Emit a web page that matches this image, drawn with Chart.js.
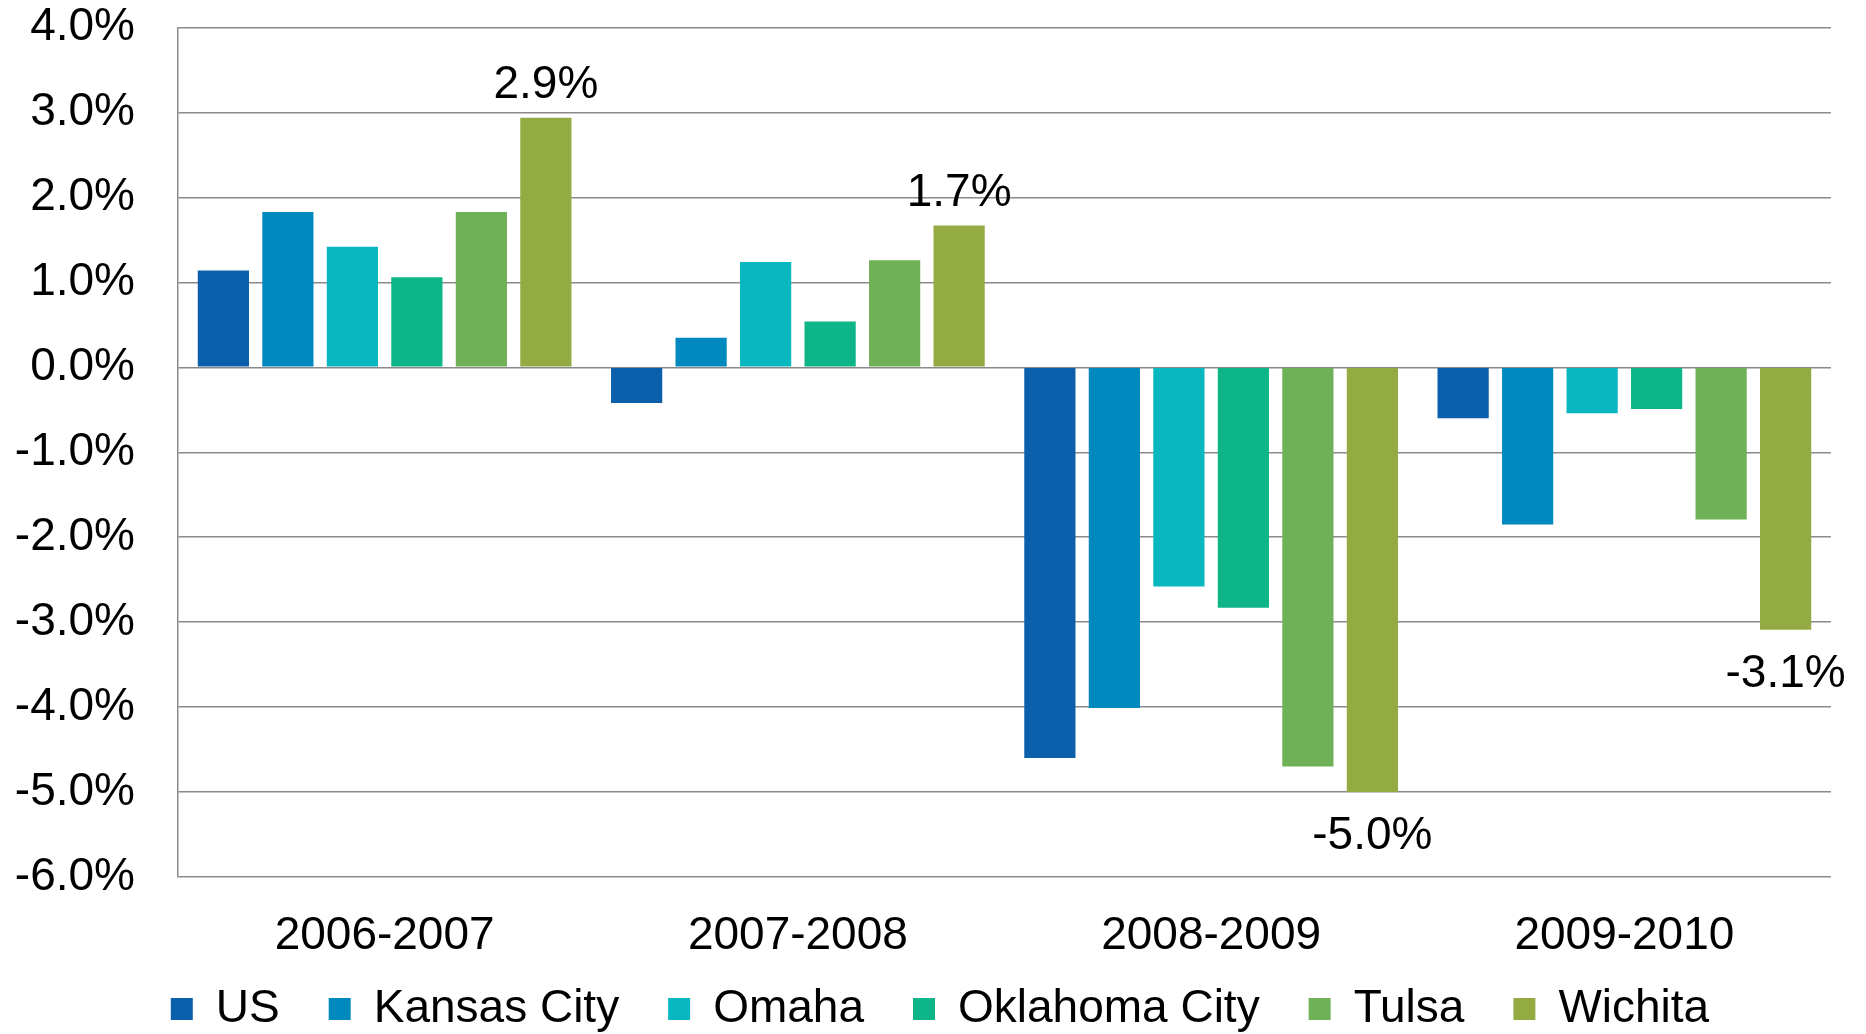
<!DOCTYPE html>
<html>
<head>
<meta charset="utf-8">
<script src="https://cdn.jsdelivr.net/npm/chart.js@4/dist/chart.umd.min.js"></script>
<style>
  html, body { margin: 0; padding: 0; background: #fff; }
  #wrap { width: 1866px; height: 1034px; }
</style>
</head>
<body>
<div id="wrap"><canvas id="myChart" width="1866" height="1034"></canvas></div>
<script>
// categories and series (percent change)
var periods = ["2006-2007", "2007-2008", "2008-2009", "2009-2010"];
var seriesNames = ["US", "Kansas City", "Omaha", "Oklahoma City", "Tulsa", "Wichita"];
var usVals       = [1.14, -0.42, -4.60, -0.60];
var kansasVals   = [1.83,  0.35, -4.01, -1.85];
var omahaVals    = [1.42,  1.24, -2.58, -0.54];
var oklahomaVals = [1.06,  0.54, -2.83, -0.49];
var tulsaVals    = [1.83,  1.26, -4.70, -1.79];
var wichitaVals  = [2.94,  1.67, -5.00, -3.09];
var yTicks = [4, 3, 2, 1, 0, -1, -2, -3, -4, -5, -6];

var colors = ["#0C5FAB", "#0089BF", "#08B7BF", "#0EB588", "#6EB156", "#93AB42"];
var allVals = [usVals, kansasVals, omahaVals, oklahomaVals, tulsaVals, wichitaVals];

Chart.defaults.font.family = "'Liberation Sans', Arial, Helvetica, sans-serif";
Chart.defaults.color = "#000";

// value labels on the Wichita bars only
var wichitaLabels = {
  id: 'wichitaLabels',
  afterDatasetsDraw: function(chart) {
    var ctx = chart.ctx;
    var meta = chart.getDatasetMeta(5);
    ctx.save();
    ctx.font = "46px 'Liberation Sans', Arial, sans-serif";
    ctx.fillStyle = "#000";
    ctx.textAlign = 'center';
    ctx.textBaseline = 'alphabetic';
    meta.data.forEach(function(bar, i) {
      var v = wichitaVals[i];
      var txt = v.toFixed(1) + '%';
      if (v >= 0) {
        ctx.fillText(txt, bar.x, bar.y - 20);
      } else {
        ctx.fillText(txt, bar.x, bar.y + 57);
      }
    });
    ctx.restore();
  }
};

// fixed legend height, and let axis labels hang outside their boxes
var layoutTweaks = {
  id: 'layoutTweaks',
  afterInit: function(chart) {
    var lg = chart.legend;
    var fit = lg.fit;
    lg.fit = function() { fit.call(this); this.height = 97; };
  },
  afterLayout: function(chart) {
    chart.scales.x.bottom = chart.height;
    chart.scales.y.left = 0;
  }
};

var ctx = document.getElementById('myChart').getContext('2d');
var myChart = new Chart(ctx, {
  type: 'bar',
  data: {
    labels: periods,
    datasets: seriesNames.map(function(name, i) {
      return {
        label: name,
        data: allVals[i],
        backgroundColor: colors[i],
        categoryPercentage: 0.9365,
        barPercentage: 0.794
      };
    })
  },
  options: {
    responsive: false,
    animation: false,
    layout: { padding: { top: 0, right: 35, left: 49, bottom: 0 } },
    plugins: {
      legend: {
        position: 'bottom',
        labels: {
          boxWidth: 22,
          boxHeight: 22,
          padding: 49,
          color: '#000',
          font: { size: 46 }
        }
      },
      tooltip: { enabled: false }
    },
    scales: {
      x: {
        grid: { display: false },
        border: { display: false },
        ticks: { font: { size: 46 }, color: '#000', padding: 24 },
        afterFit: function(scale) { scale.height = 60; }
      },
      y: {
        min: -6,
        max: 4,
        afterBuildTicks: function(scale) {
          scale.ticks = yTicks.map(function(v) { return { value: v }; });
        },
        ticks: {
          font: { size: 46 },
          color: '#000',
          padding: 0,
          callback: function(v) { return Number(v).toFixed(1) + '%'; }
        },
        grid: { color: '#8a8a8a', lineWidth: 1.5, drawTicks: true, tickLength: 43, tickColor: 'rgba(0,0,0,0)' },
        border: { display: true, color: '#8a8a8a', width: 1.5 },
        afterFit: function(scale) { scale.width = 129; }
      }
    }
  },
  plugins: [wichitaLabels, layoutTweaks]
});
</script>
</body>
</html>
